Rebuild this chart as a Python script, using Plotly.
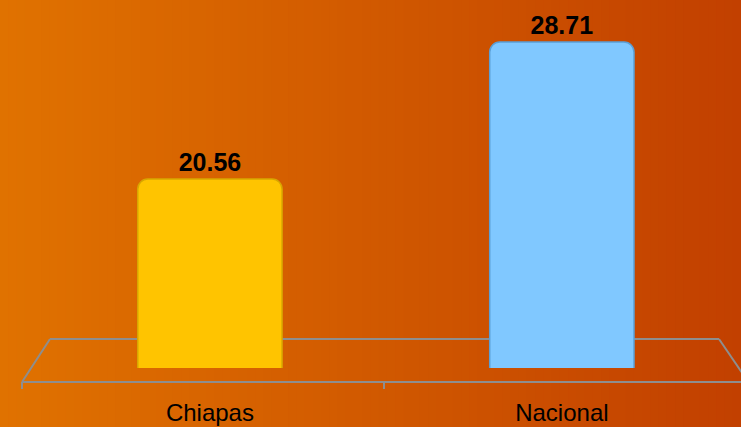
import plotly.graph_objects as go

categories = ["Chiapas", "Nacional"]
values = [20.56, 28.71]
bar_colors = ["#FFC400", "#80C8FF"]
edge_colors = ["#D8A600", "#5A9FD6"]

W, H = 741, 427
ML, MR, MT, MB = 16, 0, 0, 59
pw, ph = W - ML - MR, H - MT - MB

def px2x(px):
    return (px - ML) / pw

def py2y(py):
    return (H - MB - py) / ph

fig = go.Figure()
fig.add_trace(go.Bar(
    x=categories, y=values, width=0.41,
    marker=dict(color=bar_colors, line=dict(color=edge_colors, width=1.5), cornerradius=10),
    text=[f"{v:.2f}" for v in values], textposition="outside",
    textfont=dict(family="Liberation Sans, Arial", size=25, color="#000000", weight="bold"),
    cliponaxis=False, hoverinfo="skip",
))

shapes = []
# background gradient
n = 90
c0 = (0xE0, 0x72, 0x00)
c1 = (0xC2, 0x40, 0x00)
for i in range(n):
    t = i / (n - 1)
    c = tuple(round(c0[k] + (c1[k] - c0[k]) * t) for k in range(3))
    shapes.append(dict(type="rect", xref="paper", yref="paper",
                       x0=px2x(W * i / n), x1=px2x(W * (i + 1) / n + 1),
                       y0=py2y(H + 2), y1=py2y(-2), line=dict(width=0),
                       fillcolor="rgb(%d,%d,%d)" % c, layer="below"))
# 3D floor outline
gray = "#8E8E8E"
floor = [((50, 339), (719, 339)), ((50, 339), (22, 382)), ((22, 382), (741, 382)),
         ((719, 339), (745, 377)), ((22, 382), (22, 389)), ((384, 382), (384, 389))]
for (a, b) in floor:
    shapes.append(dict(type="line", xref="paper", yref="paper",
                       x0=px2x(a[0]), y0=py2y(a[1]), x1=px2x(b[0]), y1=py2y(b[1]),
                       line=dict(color=gray, width=2), layer="below"))

fig.update_layout(
    width=W, height=H,
    margin=dict(l=ML, r=MR, t=MT, b=MB, autoexpand=False),
    paper_bgcolor="#D05800", plot_bgcolor="rgba(0,0,0,0)",
    shapes=shapes, showlegend=False,
    xaxis=dict(range=[-0.551, 1.509], showgrid=False, zeroline=False, showline=False,
               ticks="", ticklabelstandoff=28, automargin=False,
               tickfont=dict(family="Liberation Sans, Arial", size=24, color="#000000")),
    yaxis=dict(range=[9.32, 31.21], visible=False, automargin=False),
    bargap=0.5,
)
fig.write_html("out.html", config={"displayModeBar": False},
               post_script="document.body.style.margin='0';document.body.style.overflow='hidden';")
